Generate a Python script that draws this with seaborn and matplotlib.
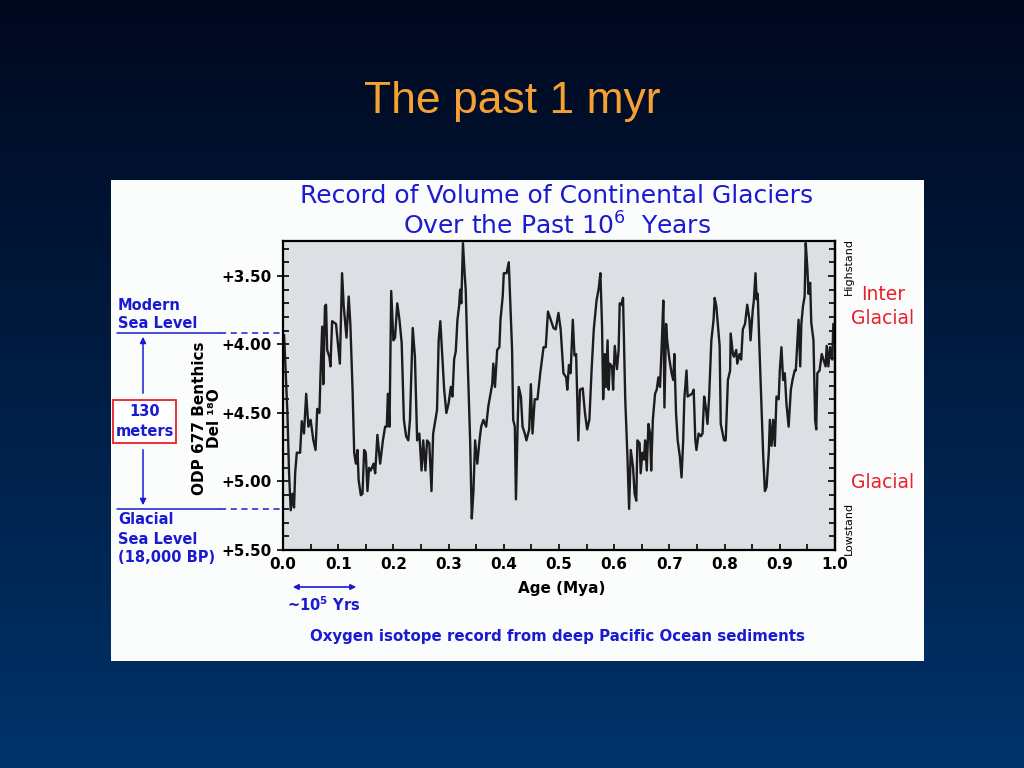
import numpy as np
import matplotlib
matplotlib.use("Agg")
import matplotlib.pyplot as plt
import matplotlib.patches as patches
from matplotlib.ticker import MultipleLocator, FixedLocator, NullFormatter
import seaborn as sns
import pandas as pd

# ---------------- data ----------------
age_mya = [0.002, 0.005, 0.008, 0.011, 0.014, 0.017, 0.020, 0.022, 0.025, 0.031,
           0.034, 0.038, 0.042, 0.046, 0.050, 0.055, 0.059, 0.062, 0.066, 0.068,
           0.071, 0.073, 0.076, 0.078, 0.080, 0.084, 0.086, 0.089, 0.096, 0.100,
           0.103, 0.107, 0.110, 0.115, 0.119, 0.122, 0.126, 0.129, 0.132, 0.135,
           0.137, 0.141, 0.144, 0.147, 0.150, 0.153, 0.156, 0.159, 0.164, 0.167,
           0.171, 0.176, 0.181, 0.185, 0.188, 0.190, 0.193, 0.196, 0.200, 0.203,
           0.207, 0.211, 0.215, 0.219, 0.223, 0.227, 0.230, 0.235, 0.239, 0.243,
           0.247, 0.251, 0.254, 0.258, 0.261, 0.265, 0.269, 0.272, 0.276, 0.279,
           0.282, 0.285, 0.289, 0.292, 0.296, 0.300, 0.304, 0.307, 0.310, 0.313,
           0.316, 0.319, 0.321, 0.323, 0.326, 0.329, 0.331, 0.334, 0.339, 0.342,
           0.345, 0.348, 0.352, 0.356, 0.359, 0.363, 0.368, 0.372, 0.375, 0.379,
           0.381, 0.384, 0.388, 0.392, 0.394, 0.398, 0.400, 0.405, 0.409, 0.412,
           0.415, 0.417, 0.420, 0.422, 0.425, 0.427, 0.431, 0.434, 0.438, 0.441,
           0.446, 0.449, 0.452, 0.456, 0.461, 0.466, 0.472, 0.476, 0.480,
           0.490, 0.494, 0.499, 0.503, 0.508, 0.513, 0.515, 0.518, 0.521, 0.525,
           0.528, 0.531, 0.535, 0.538, 0.543, 0.547, 0.551, 0.555, 0.559, 0.563,
           0.568, 0.572, 0.575, 0.578, 0.580, 0.583, 0.585, 0.588, 0.590, 0.592,
           0.596, 0.598, 0.601, 0.605, 0.608, 0.610, 0.613, 0.616, 0.620, 0.624,
           0.627, 0.630, 0.634, 0.637, 0.640, 0.642, 0.646, 0.648, 0.651, 0.654,
           0.656, 0.659, 0.662, 0.665, 0.667, 0.670, 0.674, 0.677, 0.680, 0.683,
           0.686, 0.689, 0.691, 0.694, 0.696, 0.700, 0.704, 0.707, 0.709, 0.712,
           0.715, 0.719, 0.722, 0.725, 0.727, 0.731, 0.733, 0.737, 0.741, 0.744,
           0.747, 0.749, 0.753, 0.757, 0.760, 0.763, 0.766, 0.769, 0.772, 0.776,
           0.780, 0.782, 0.785, 0.788, 0.791, 0.793, 0.795, 0.799, 0.802, 0.806,
           0.810, 0.811, 0.815, 0.817, 0.821, 0.823, 0.827, 0.830, 0.833, 0.837,
           0.841, 0.845, 0.847, 0.851, 0.853, 0.856, 0.858, 0.860, 0.863, 0.867,
           0.870, 0.873, 0.876, 0.880, 0.882, 0.885, 0.888, 0.891, 0.894, 0.898,
           0.900, 0.903, 0.906, 0.909, 0.912, 0.916, 0.920, 0.923, 0.927, 0.929,
           0.932, 0.934, 0.937, 0.939, 0.942, 0.945, 0.947, 0.950, 0.952, 0.955,
           0.957, 0.961, 0.964, 0.966, 0.968, 0.972, 0.976, 0.979, 0.983, 0.985,
           0.988, 0.991, 0.995, 0.997]

del18o = [3.93, 4.21, 4.50, 4.94, 5.21, 5.09, 5.19, 4.94, 4.79, 4.79,
          4.56, 4.65, 4.36, 4.60, 4.55, 4.70, 4.77, 4.47, 4.50, 4.21,
          3.87, 4.29, 3.72, 3.71, 4.04, 4.09, 4.16, 3.83, 3.85, 4.02,
          4.14, 3.48, 3.72, 3.95, 3.65, 3.85, 4.33, 4.79, 4.87, 4.77,
          4.99, 5.10, 5.09, 4.77, 4.79, 5.07, 4.90, 4.92, 4.87, 4.94,
          4.66, 4.87, 4.70, 4.60, 4.60, 4.36, 4.60, 3.61, 3.97, 3.95,
          3.70, 3.82, 3.99, 4.55, 4.67, 4.70, 4.55, 3.88, 4.09, 4.70,
          4.65, 4.92, 4.70, 4.92, 4.70, 4.72, 5.07, 4.65, 4.55, 4.48,
          3.97, 3.83, 4.11, 4.33, 4.50, 4.43, 4.31, 4.38, 4.11, 4.05,
          3.82, 3.72, 3.60, 3.70, 3.26, 3.48, 3.60, 4.05, 4.70, 5.27,
          5.07, 4.70, 4.87, 4.70, 4.60, 4.55, 4.60, 4.45, 4.38, 4.29,
          4.14, 4.31, 4.04, 4.02, 3.82, 3.65, 3.48, 3.48, 3.40, 3.72,
          4.04, 4.55, 4.60, 5.13, 4.60, 4.31, 4.38, 4.60, 4.65, 4.70,
          4.62, 4.29, 4.65, 4.40, 4.40, 4.21, 4.02, 4.02, 3.76,
          3.88, 3.89, 3.77, 3.89, 4.21, 4.24, 4.33, 4.15, 4.21, 3.82,
          4.08, 4.07, 4.70, 4.33, 4.32, 4.50, 4.62, 4.55, 4.19, 3.89,
          3.68, 3.59, 3.48, 3.87, 4.40, 4.07, 4.31, 3.97, 4.33, 4.14,
          4.16, 4.33, 4.01, 4.18, 4.04, 3.70, 3.71, 3.66, 4.40, 4.82,
          5.20, 4.77, 4.89, 5.09, 5.14, 4.70, 4.72, 4.94, 4.79, 4.84,
          4.70, 4.92, 4.58, 4.65, 4.92, 4.55, 4.36, 4.33, 4.24, 4.31,
          4.01, 3.68, 4.46, 3.85, 3.97, 4.11, 4.21, 4.26, 4.07, 4.50,
          4.70, 4.82, 4.97, 4.70, 4.40, 4.19, 4.38, 4.37, 4.36, 4.33,
          4.70, 4.77, 4.65, 4.67, 4.65, 4.38, 4.46, 4.58, 4.38, 3.97,
          3.82, 3.66, 3.72, 3.87, 4.01, 4.58, 4.62, 4.70, 4.70, 4.26,
          4.19, 3.92, 4.07, 4.09, 4.04, 4.14, 4.07, 4.11, 3.89, 3.85,
          3.71, 3.82, 3.97, 3.75, 3.68, 3.48, 3.67, 3.63, 4.01, 4.46,
          4.82, 5.07, 5.04, 4.79, 4.55, 4.74, 4.55, 4.74, 4.38, 4.40,
          4.19, 4.02, 4.26, 4.21, 4.43, 4.60, 4.33, 4.26, 4.19, 4.19,
          3.97, 3.82, 4.16, 3.85, 3.72, 3.65, 3.26, 3.45, 3.63, 3.55,
          3.84, 3.97, 4.55, 4.62, 4.21, 4.19, 4.07, 4.11, 4.16, 4.01,
          4.16, 4.02, 4.11, 3.85]

x_ticks = [0.0, 0.1, 0.2, 0.3, 0.4, 0.5, 0.6, 0.7, 0.8, 0.9, 1.0]
y_ticks = [3.5, 4.0, 4.5, 5.0, 5.5]
y_tick_labels = ["+3.50", "+4.00", "+4.50", "+5.00", "+5.50"]

# ---------------- figure ----------------
W, H = 1024, 768
sns.set_theme(style="white")
plt.rcParams['font.family'] = ['DejaVu Sans']
fig = plt.figure(figsize=(W / 100, H / 100), dpi=100)

def fx(x):
    return x / W

def fy(y):
    return 1 - y / H

# gradient background
bg = fig.add_axes([0, 0, 1, 1], zorder=-10)
grad = np.linspace(0, 1, 256).reshape(-1, 1)
top = np.array([0x00, 0x08, 0x1e]) / 255
bot = np.array([0x00, 0x33, 0x6a]) / 255
img = top + (bot - top) * grad[..., None]
img = img.reshape(256, 1, 3)
bg.imshow(img, aspect='auto', extent=[0, 1, 0, 1], origin='upper')
bg.set_axis_off()

fig.text(0.5, fy(101), "The past 1 myr", color="#f5a033", fontsize=32,
         family="Liberation Sans", ha="center", va="center")

# white panel
fig.patches.append(patches.Rectangle((fx(111), fy(661)), fx(924 - 111), (661 - 180) / H,
                                     transform=fig.transFigure, facecolor="#fbfdfd",
                                     edgecolor="none", zorder=-5))

blue = "#1a1ad0"
red = "#e8202a"

fig.text(fx(557), fy(196), "Record of Volume of Continental Glaciers", color=blue,
         fontsize=18, ha="center", va="center")
fig.text(fx(557), fy(226), "Over the Past 10$^{6}$  Years", color=blue,
         fontsize=18, ha="center", va="center")

# main axes
ax = fig.add_axes([fx(283), fy(550), fx(835 - 283), (550 - 241) / H])
ax.set_facecolor("#dcdfe4")
df = pd.DataFrame({"age": age_mya, "d18o": del18o})
sns.lineplot(data=df, x="age", y="d18o", ax=ax, color="#1c1c1c", lw=1.7,
             estimator=None, sort=False)
ax.set_xlim(0.0, 1.0)
ax.set_ylim(5.5, 3.245)
ax.set_xlabel("")
ax.set_ylabel("")
ax.set_xticks(x_ticks)
ax.set_xticklabels([f"{v:.1f}" for v in x_ticks], fontsize=11, fontweight="bold")
ax.set_yticks(y_ticks)
ax.set_yticklabels(y_tick_labels, fontsize=11, fontweight="bold")
ax.xaxis.set_minor_locator(MultipleLocator(0.05))
ax.yaxis.set_minor_locator(MultipleLocator(0.1))
ax.tick_params(axis="both", which="both", direction="in", colors="black",
               labelcolor="black")
ax.tick_params(axis="x", which="both", bottom=True, top=False, length=4, width=1.2, pad=5)
ax.tick_params(axis="y", which="both", left=True, right=False, length=4, width=1.2, pad=4)
ax.tick_params(axis="y", which="major", direction="inout", length=9)
for sp in ax.spines.values():
    sp.set_color("black")
    sp.set_linewidth(1.6)

# right-side inward ticks
sec = ax.secondary_yaxis("right")
sec.yaxis.set_major_locator(FixedLocator(y_ticks))
sec.yaxis.set_minor_locator(MultipleLocator(0.1))
sec.yaxis.set_major_formatter(NullFormatter())
sec.tick_params(axis="y", which="both", direction="in", length=4, width=1.2,
                colors="black")
sec.tick_params(axis="y", which="major", length=5)
sec.spines["right"].set_linewidth(1.6)
sec.spines["right"].set_color("black")

# y label
fig.text(fx(207), fy(418), "ODP 677 Benthics\nDel ¹⁸O", rotation=90, color="black",
         fontsize=11, fontweight="bold", ha="center", va="center", linespacing=1.0)
fig.text(fx(562), fy(589), "Age (Mya)", color="black", fontsize=11,
         fontweight="bold", ha="center", va="center")

# sea level lines (left annotations)
for yy in (333, 509):
    fig.add_artist(plt.Line2D([fx(117), fx(220)], [fy(yy), fy(yy)], color=blue, lw=1.1))
    fig.add_artist(plt.Line2D([fx(220), fx(283)], [fy(yy), fy(yy)], color=blue, lw=1.1,
                              ls=(0, (4, 3))))

for txt, yy in (("Modern", 305), ("Sea Level", 324), ("Glacial", 519),
                ("Sea Level", 539), ("(18,000 BP)", 558)):
    fig.text(fx(118), fy(yy), txt, color=blue, fontsize=10.5, fontweight="bold",
             va="center")

fig.add_artist(patches.FancyArrowPatch((fx(143), fy(396)), (fx(143), fy(334)),
                                       transform=fig.transFigure, arrowstyle="-|>",
                                       mutation_scale=9, color=blue, lw=1.1))
fig.add_artist(patches.FancyArrowPatch((fx(143), fy(447)), (fx(143), fy(508)),
                                       transform=fig.transFigure, arrowstyle="-|>",
                                       mutation_scale=9, color=blue, lw=1.1))
fig.add_artist(patches.Rectangle((fx(113), fy(443)), fx(176 - 113), (443 - 400) / H,
                                 transform=fig.transFigure, facecolor="white",
                                 edgecolor=red, lw=1.3))
fig.text(fx(144.5), fy(412), "130", color=blue, fontsize=10.5, fontweight="bold",
         ha="center", va="center")
fig.text(fx(144.5), fy(432), "meters", color=blue, fontsize=10.5, fontweight="bold",
         ha="center", va="center")

# right annotations
fig.text(fx(849), fy(266), "Highstand", rotation=90, color="black", fontsize=8,
         ha="center", va="center")
fig.text(fx(849), fy(528), "Lowstand", rotation=90, color="black", fontsize=8,
         ha="center", va="center")
fig.text(fx(883), fy(295), "Inter", color=red, fontsize=13.5, ha="center", va="center")
fig.text(fx(883), fy(318), "Glacial", color=red, fontsize=13.5, ha="center", va="center")
fig.text(fx(883), fy(483), "Glacial", color=red, fontsize=13.5, ha="center", va="center")

# bottom annotations
fig.add_artist(patches.FancyArrowPatch((fx(290), fy(587)), (fx(359), fy(587)),
                                       transform=fig.transFigure, arrowstyle="<|-|>",
                                       mutation_scale=8, color=blue, lw=1.2))
fig.text(fx(324), fy(605), "~10$^{\\mathbf{5}}$ Yrs", color=blue, fontsize=10.5,
         fontweight="bold", ha="center", va="center")
fig.text(fx(558), fy(636), "Oxygen isotope record from deep Pacific Ocean sediments",
         color=blue, fontsize=10.8, fontweight="bold", ha="center", va="center")

fig.savefig("out.png", dpi=100)
